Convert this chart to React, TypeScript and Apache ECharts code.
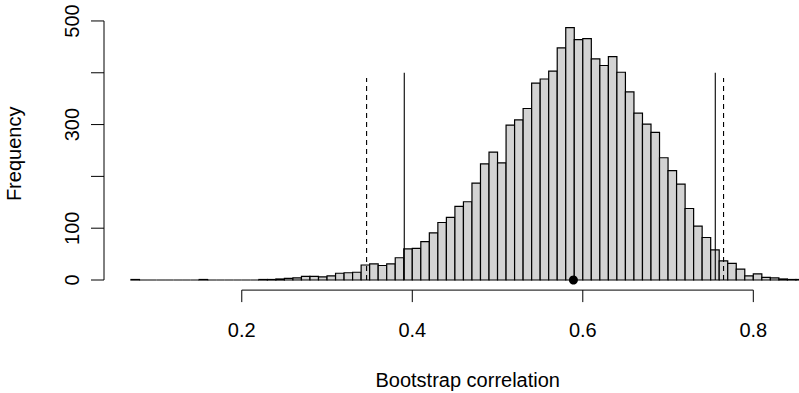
import React, { useEffect, useRef } from 'react';
import * as echarts from 'echarts';

// ---- data ----
const firstBreak = 0.07;
const binWidth = 0.01;
const counts = [
  1, 0, 0, 0, 0, 0, 0, 0, 1, 0,
  0, 0, 0, 0, 0, 1, 1, 2, 3, 4,
  7, 7, 6, 8, 13, 14, 15, 29, 31, 28,
  31, 43, 60, 61, 74, 91, 111, 121, 142, 151,
  187, 224, 247, 226, 299, 309, 331, 380, 388, 403,
  448, 487, 464, 466, 427, 414, 431, 401, 363, 322,
  301, 285, 236, 211, 185, 138, 104, 82, 58, 37,
  32, 21, 8, 12, 5, 4, 2, 1, 1,
];
const pointEstimate = 0.589;
const solidLines = [0.3906, 0.7554];
const solidHeight = 400;
const dashedLines = [0.3464, 0.7651];
const dashedHeight = 390;
const xTicks = [0.2, 0.4, 0.6, 0.8];
const xTickLabels = ['0.2', '0.4', '0.6', '0.8'];
const yTicks = [0, 100, 200, 300, 400, 500];
const yTickLabels = ['0', '100', '', '300', '', '500'];
const xLimits = [0.0384, 0.8916];
const yLimits = [-19.48, 506.48];
const xTitle = 'Bootstrap correlation';
const yTitle = 'Frequency';

const FONT = "'Liberation Sans', Arial, Helvetica, sans-serif";

export default function App() {
  const ref = useRef<HTMLDivElement>(null);
  useEffect(() => {
    if (!ref.current) return;
    const chart = echarts.init(ref.current, null, { renderer: 'svg' });
    const bins = counts.map((c, i) => [firstBreak + i * binWidth, c]);

    const option: any = {
      animation: false,
      backgroundColor: '#ffffff',
      grid: { left: 104, top: 17.6, width: 727.4, height: 272.5 },
      xAxis: { type: 'value', min: xLimits[0], max: xLimits[1], show: false },
      yAxis: { type: 'value', min: yLimits[0], max: yLimits[1], show: false },
      series: [
        {
          type: 'custom',
          name: 'bars',
          clip: false,
          data: bins,
          renderItem: (params: any, api: any) => {
            const x0 = api.value(0);
            const c = api.value(1);
            const p0 = api.coord([x0, 0]);
            const p1 = api.coord([x0 + binWidth, c]);
            return {
              type: 'polygon',
              shape: {
                points: [
                  [p0[0], p0[1]],
                  [p0[0], p1[1]],
                  [p1[0], p1[1]],
                  [p1[0], p0[1]],
                ],
              },
              style: { fill: '#d3d3d3', stroke: '#000', lineWidth: 1.2 },
            };
          },
        },
        {
          type: 'custom',
          name: 'intervals',
          clip: false,
          data: [
            ...solidLines.map((v) => [v, solidHeight, 0]),
            ...dashedLines.map((v) => [v, dashedHeight, 1]),
          ],
          renderItem: (params: any, api: any) => {
            const v = api.value(0);
            const h = api.value(1);
            const dashed = api.value(2) === 1;
            const a = api.coord([v, 0]);
            const b = api.coord([v, h]);
            return {
              type: 'line',
              shape: { x1: a[0], y1: a[1], x2: b[0], y2: b[1] },
              style: {
                stroke: '#000',
                lineWidth: 1.1,
                lineDash: dashed ? [5, 4] : null,
              },
            };
          },
        },
        {
          type: 'scatter',
          name: 'estimate',
          data: [[pointEstimate, 0]],
          symbol: 'circle',
          symbolSize: 9,
          itemStyle: { color: '#000', opacity: 1 },
          z: 5,
        },
        {
          type: 'custom',
          name: 'axes',
          clip: false,
          data: [[0, 0]],
          renderItem: (params: any, api: any) => {
            const children: any[] = [];
            const lineStyle = { stroke: '#000', lineWidth: 1 };
            // y axis
            const ya = api.coord([xLimits[0], yTicks[0]]);
            const yb = api.coord([xLimits[0], yTicks[yTicks.length - 1]]);
            children.push({ type: 'line', shape: { x1: ya[0], y1: ya[1], x2: yb[0], y2: yb[1] }, style: lineStyle });
            yTicks.forEach((t, i) => {
              const p = api.coord([xLimits[0], t]);
              children.push({ type: 'line', shape: { x1: p[0], y1: p[1], x2: p[0] - 13, y2: p[1] }, style: lineStyle });
              if (yTickLabels[i]) {
                children.push({
                  type: 'text',
                  x: p[0] - 32,
                  y: p[1],
                  rotation: Math.PI / 2,
                  style: { text: yTickLabels[i], fill: '#000', fontSize: 20, fontFamily: FONT, align: 'center', verticalAlign: 'middle' },
                });
              }
            });
            // x axis
            const xa = api.coord([xTicks[0], yLimits[0]]);
            const xb = api.coord([xTicks[xTicks.length - 1], yLimits[0]]);
            children.push({ type: 'line', shape: { x1: xa[0], y1: xa[1], x2: xb[0], y2: xb[1] }, style: lineStyle });
            xTicks.forEach((t, i) => {
              const p = api.coord([t, yLimits[0]]);
              children.push({ type: 'line', shape: { x1: p[0], y1: p[1], x2: p[0], y2: p[1] + 12 }, style: lineStyle });
              children.push({
                type: 'text',
                x: p[0],
                y: p[1] + 40,
                style: { text: xTickLabels[i], fill: '#000', fontSize: 20, fontFamily: FONT, align: 'center', verticalAlign: 'middle' },
              });
            });
            // titles
            const xc = api.coord([(xLimits[0] + xLimits[1]) / 2, yLimits[0]]);
            children.push({
              type: 'text',
              x: xc[0],
              y: xc[1] + 90,
              style: { text: xTitle, fill: '#000', fontSize: 20, fontFamily: FONT, align: 'center', verticalAlign: 'middle' },
            });
            const yc = api.coord([xLimits[0], (yLimits[0] + yLimits[1]) / 2]);
            children.push({
              type: 'text',
              x: yc[0] - 90,
              y: yc[1],
              rotation: Math.PI / 2,
              style: { text: yTitle, fill: '#000', fontSize: 20, fontFamily: FONT, align: 'center', verticalAlign: 'middle' },
            });
            return { type: 'group', children };
          },
        },
      ],
    };
    chart.setOption(option);
    return () => chart.dispose();
  }, []);
  return (
    <div style={{ position: 'absolute', left: 0, top: 0, width: 799, height: 393, overflow: 'hidden', background: '#fff' }}>
      <div ref={ref} style={{ width: 840, height: 393 }} />
    </div>
  );
}
